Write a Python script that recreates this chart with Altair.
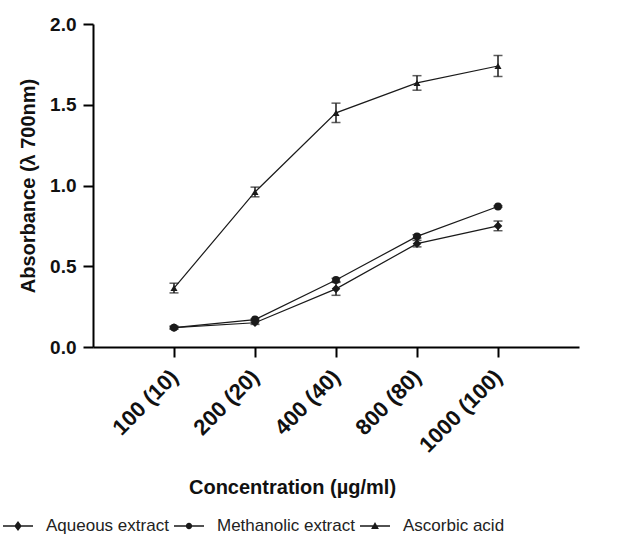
import altair as alt
import pandas as pd

concentrations = ["100 (10)", "200 (20)", "400 (40)", "800 (80)", "1000 (100)"]
series_names = ["Aqueous extract", "Methanolic extract", "Ascorbic acid"]

aqueous = [0.12, 0.15, 0.36, 0.64, 0.75]
aqueous_err = [0.01, 0.01, 0.04, 0.02, 0.03]
methanolic = [0.12, 0.17, 0.415, 0.685, 0.87]
methanolic_err = [0.005, 0.005, 0.01, 0.01, 0.005]
ascorbic = [0.365, 0.96, 1.45, 1.635, 1.74]
ascorbic_err = [0.03, 0.03, 0.06, 0.045, 0.065]

rows = []
for name, vals, errs in zip(series_names, [aqueous, methanolic, ascorbic],
                            [aqueous_err, methanolic_err, ascorbic_err]):
    for c, v, e in zip(concentrations, vals, errs):
        rows.append({"series": name, "conc": c, "value": v, "lo": v - e, "hi": v + e})
df = pd.DataFrame(rows)

INK = "#1a1a1a"
FONT = "Liberation Sans"

x = alt.X("conc:N", sort=concentrations,
          scale=alt.Scale(type="point", padding=1),
          axis=alt.Axis(title="Concentration (µg/ml)", labelAngle=315, labelAlign="right",
                        labelBaseline="middle", labelPadding=16, labelFontSize=22,
                        titleX=199, titleY=140, titleAlign="center", titleBaseline="middle"))
y = alt.Y("value:Q", scale=alt.Scale(domain=[0, 2], nice=False),
          axis=alt.Axis(title="Absorbance (λ 700nm)", values=[0, 0.5, 1.0, 1.5, 2.0], format=".1f",
                        labelFontSize=19, labelPadding=7,
                        titleX=-65, titleY=161.5, titleAlign="center", titleBaseline="middle"))

base = alt.Chart(df)

lines = base.mark_line(color=INK, strokeWidth=1.2).encode(x=x, y=y, detail="series:N")
rules = base.mark_rule(color=INK, strokeWidth=1.5).encode(x=x, y="lo:Q", y2="hi:Q")
cap_hi = base.mark_tick(orient="horizontal", size=9, thickness=1.5, color=INK).encode(x=x, y="hi:Q")
cap_lo = base.mark_tick(orient="horizontal", size=9, thickness=1.5, color=INK).encode(x=x, y="lo:Q")

points = base.mark_point(filled=True, color=INK, opacity=1).encode(
    x=x, y=y,
    shape=alt.Shape("series:N", scale=alt.Scale(domain=series_names,
                                                range=["diamond", "circle", "triangle-up"]), legend=None),
    size=alt.Size("series:N", scale=alt.Scale(domain=series_names, range=[75, 50, 60]), legend=None),
)

line_part = "M-1,-0.055L1,-0.055L1,0.055L-1,0.055Z"
sym_diamond = line_part + "M0,-0.34L0.25,0L0,0.34L-0.25,0Z"
sym_circle = line_part + "M-0.21,0A0.21,0.21 0 1,1 0.21,0A0.21,0.21 0 1,1 -0.21,0Z"
sym_tri = line_part + "M0,-0.26L0.26,0.2L-0.26,0.2Z"

legend_layer = base.mark_point(filled=True, color=INK, opacity=0).encode(
    x=x, y=y,
    shape=alt.Shape("series:N",
                    scale=alt.Scale(domain=series_names, range=[sym_diamond, sym_circle, sym_tri]),
                    legend=alt.Legend(title=None, orient="none", legendX=-90, legendY=487,
                                      direction="horizontal", labelFont=FONT, labelFontSize=17,
                                      labelColor="#222", symbolSize=900, labelOffset=13,
                                      columnPadding=5, symbolStrokeWidth=0, symbolOpacity=1,
                                      symbolFillColor=INK, labelLimit=300)),
)

chart = alt.layer(lines, rules, cap_hi, cap_lo, points, legend_layer).resolve_scale(
    shape="independent", size="independent"
).properties(
    width=486, height=323,
    autosize=alt.AutoSizeParams(type="none"),
    padding={"left": 93, "top": 24, "right": 48, "bottom": 194},
    background="white",
).configure_view(stroke=None).configure_axis(
    grid=False, domainColor="black", domainWidth=2, tickColor="black", tickWidth=2, tickSize=10,
    labelFont=FONT, labelFontWeight="bold", labelColor="#111",
    titleFont=FONT, titleFontWeight="bold", titleFontSize=20, titleColor="#111",
)

chart.save("out.html", embed_options={"renderer": "svg", "actions": False})
